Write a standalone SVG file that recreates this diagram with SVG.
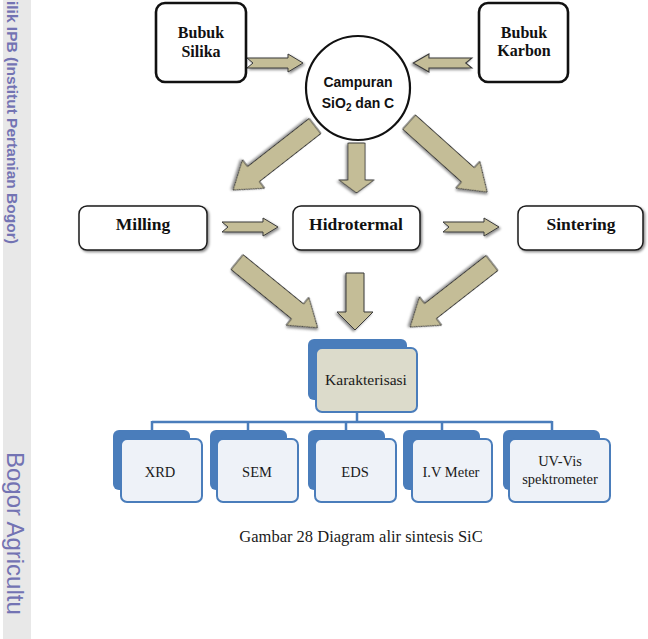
<svg xmlns="http://www.w3.org/2000/svg" xmlns:xlink="http://www.w3.org/1999/xlink" width="648" height="639" viewBox="0 0 648 639">
<style>
.arr{fill:#c4bd97;stroke:#3a3a3a;stroke-width:1;filter:url(#sh)}
.box{fill:#fff;stroke:#1a1a1a;stroke-width:1.5;filter:url(#sh)}
.boxh{fill:#fff;stroke:#111;stroke-width:2.6}
.tb{font-family:"Liberation Serif",serif;font-weight:bold;fill:#111;text-anchor:middle}
.tr{font-family:"Liberation Serif",serif;fill:#1a1a1a;text-anchor:middle}
.back{fill:#4a7dbb}
.front{fill:#eef2f8;stroke:#4a7dbb;stroke-width:2}
.conn{stroke:#4a7dbb;stroke-width:2.5;fill:none}
.wm{font-family:"Liberation Sans",sans-serif;fill:#7373b3}
</style>
<defs>
<filter id="sh" x="-20%" y="-20%" width="140%" height="140%">
<feDropShadow dx="1.5" dy="1.5" stdDeviation="1" flood-color="#000" flood-opacity="0.45"/>
</filter>
<path id="na" d="M0,-5 H41 V-9 L56,0 L41,9 V5 H0 L6,0 Z"/>
</defs>
<rect width="648" height="639" fill="#fff"/>
<rect x="3" y="0" width="28" height="639" fill="#e8e8e8"/>
<text class="wm" font-weight="bold" font-size="15.5" transform="translate(7,1) rotate(90)">ilik IPB (Institut Pertanian Bogor)</text>
<text class="wm" font-size="24" transform="translate(7,452) rotate(90)">Bogor Agricultu</text>

<g id="connectors">
<use href="#na" class="arr" transform="translate(247,63)"/>
<use href="#na" class="arr" transform="translate(472,63) scale(-1.05,1)"/>
<use href="#na" class="arr" transform="translate(222,227)"/>
<use href="#na" class="arr" transform="translate(443,227)"/>
<path class="arr" transform="translate(315,126) rotate(142)" d="M0,-9.5 H78 V-18 L104,0 L78,18 V9.5 H0 Z"/>
<path class="arr" transform="translate(409,122) rotate(41.9)" d="M0,-9.5 H79 V-18 L105,0 L79,18 V9.5 H0 Z"/>
<path class="arr" transform="translate(356.5,143) rotate(90)" d="M0,-8.5 H37 V-17.5 L50,0 L37,17.5 V8.5 H0 Z"/>
<path class="arr" transform="translate(237,262) rotate(39.2)" d="M0,-9.5 H78 V-18 L104,0 L78,18 V9.5 H0 Z"/>
<path class="arr" transform="translate(492,263) rotate(142)" d="M0,-9.5 H78 V-18 L104,0 L78,18 V9.5 H0 Z"/>
<path class="arr" transform="translate(355,273) rotate(90)" d="M0,-9 H39 V-18 L57,0 L39,18 V9 H0 Z"/>
<path class="conn" d="M357,412 V422 M152,422 H552 M152,421 V431 M248,421 V431 M346,421 V431 M442,421 V431 M552,421 V431"/>
</g>

<g id="bubuk-silika">
<rect class="boxh" x="156" y="3" width="90" height="79" rx="9"/>
<text class="tb" font-size="16" x="201" y="38">Bubuk</text>
<text class="tb" font-size="16" x="201" y="57">Silika</text>
</g>
<g id="bubuk-karbon">
<rect class="boxh" x="479" y="3" width="89" height="79" rx="9"/>
<text class="tb" font-size="16" x="524" y="38">Bubuk</text>
<text class="tb" font-size="16" x="524" y="56">Karbon</text>
</g>
<g id="campuran">
<circle cx="358" cy="88" r="52" fill="#fff" stroke="#111" stroke-width="2.2"/>
<text font-family="Liberation Sans,sans-serif" font-weight="bold" font-size="14" fill="#111" text-anchor="middle" x="358" y="87">Campuran</text>
<text font-family="Liberation Sans,sans-serif" font-weight="bold" font-size="14" fill="#111" text-anchor="middle" x="358" y="108">SiO<tspan font-size="10" dy="3">2</tspan><tspan dy="-3"> dan C</tspan></text>
</g>
<g id="milling">
<rect class="box" x="79" y="206" width="128" height="44" rx="8"/>
<text class="tb" font-size="17.5" x="143" y="230">Milling</text>
</g>
<g id="hidrotermal">
<rect class="box" x="293" y="206" width="127" height="44" rx="8"/>
<text class="tb" font-size="17.5" x="356" y="230">Hidrotermal</text>
</g>
<g id="sintering">
<rect class="box" x="518" y="206" width="125" height="44" rx="8"/>
<text class="tb" font-size="17.5" x="581" y="230">Sintering</text>
</g>
<g id="karakterisasi">
<rect class="back" x="308" y="339" width="99" height="61" rx="6"/>
<rect x="316" y="348" width="101" height="64" rx="6" fill="#dcdbcb" stroke="#4a7dbb" stroke-width="2"/>
<text class="tr" font-size="15.5" x="366" y="385">Karakterisasi</text>
</g>
<g id="xrd">
<rect class="back" x="113" y="430" width="77" height="60" rx="6"/>
<rect class="front" x="121" y="439" width="81" height="63" rx="6"/>
<text class="tr" font-size="14.5" x="160" y="477">XRD</text>
</g>
<g id="sem">
<rect class="back" x="210" y="430" width="77" height="60" rx="6"/>
<rect class="front" x="217" y="439" width="81" height="63" rx="6"/>
<text class="tr" font-size="14.5" x="257" y="477">SEM</text>
</g>
<g id="eds">
<rect class="back" x="308" y="430" width="77" height="60" rx="6"/>
<rect class="front" x="315" y="439" width="81" height="63" rx="6"/>
<text class="tr" font-size="14.5" x="355" y="477">EDS</text>
</g>
<g id="iv-meter">
<rect class="back" x="403" y="430" width="77" height="60" rx="6"/>
<rect class="front" x="412" y="439" width="80" height="63" rx="6"/>
<text class="tr" font-size="14.5" x="451" y="477">I.V Meter</text>
</g>
<g id="uv-vis">
<rect class="back" x="503" y="430" width="97" height="60" rx="6"/>
<rect class="front" x="509" y="439" width="101" height="63" rx="6"/>
<text class="tr" font-size="14.5" x="560" y="466">UV-Vis</text>
<text class="tr" font-size="14.5" x="560" y="484">spektrometer</text>
</g>
<text class="tr" font-size="16.5" x="361" y="542">Gambar 28 Diagram alir sintesis SiC</text>
</svg>
